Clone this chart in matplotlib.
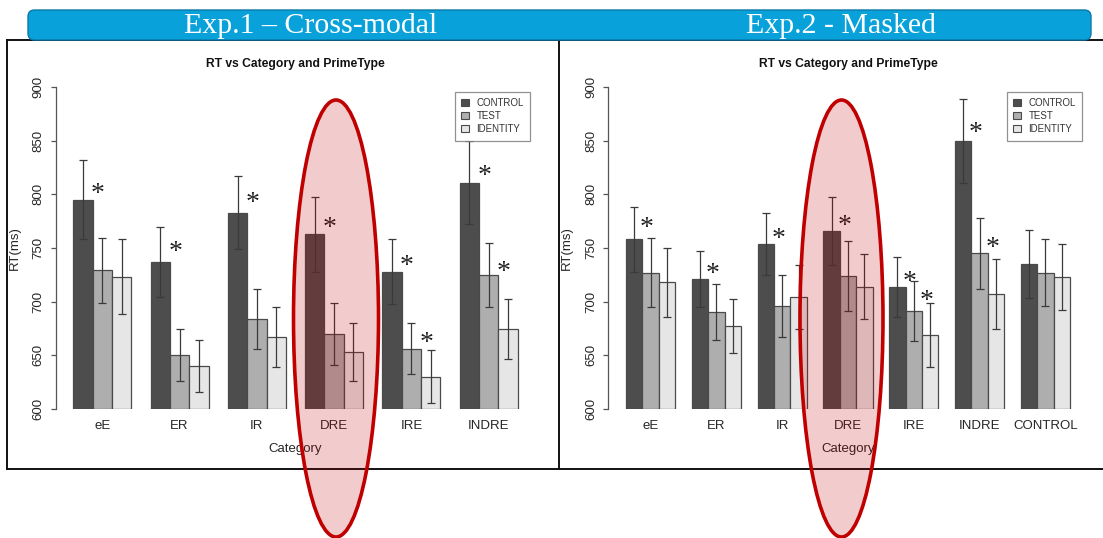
import matplotlib
matplotlib.use('Agg')
import matplotlib.pyplot as plt
from matplotlib.patches import Ellipse, FancyBboxPatch, Patch
from matplotlib.lines import Line2D

plt.rcParams['font.family'] = ['Liberation Sans', 'DejaVu Sans']

# ---------------- data ----------------
prime_types = ['CONTROL', 'TEST', 'IDENTITY']
bar_colors = ['#4D4D4D', '#AEAEAE', '#E6E6E6']

cats1 = ['eE', 'ER', 'IR', 'DRE', 'IRE', 'INDRE']
control1 = [795, 737, 783, 763, 728, 811]
test1 = [729, 650, 684, 670, 656, 725]
identity1 = [723, 640, 667, 653, 630, 674]
err_control1 = [37, 33, 34, 35, 30, 39]
err_test1 = [30, 24, 28, 29, 24, 30]
err_identity1 = [35, 24, 28, 27, 25, 28]
# (category index, gap index: 0 = control|test, 1 = test|identity, height)
stars1 = [(0, 0, 806), (1, 0, 752), (2, 0, 798), (3, 0, 774),
          (4, 0, 739), (4, 1, 667), (5, 0, 823), (5, 1, 733)]

cats2 = ['eE', 'ER', 'IR', 'DRE', 'IRE', 'INDRE', 'CONTROL']
control2 = [758, 721, 754, 766, 714, 850, 735]
test2 = [727, 690, 696, 724, 691, 745, 727]
identity2 = [718, 677, 704, 714, 669, 707, 723]
err_control2 = [30, 26, 29, 32, 28, 39, 32]
err_test2 = [32, 26, 29, 33, 28, 33, 31]
err_identity2 = [32, 25, 30, 30, 30, 33, 31]
stars2 = [(0, 0, 774), (1, 0, 731), (2, 0, 764), (3, 0, 776),
          (4, 0, 724), (4, 1, 706), (5, 0, 863), (5, 1, 756)]

yticks = [600, 650, 700, 750, 800, 850, 900]
banner_titles = ['Exp.1 \u2013 Cross-modal', 'Exp.2 - Masked']
plot_title = 'RT vs Category and PrimeType'
xlabel = 'Category'
ylabel = 'RT(ms)'

# ---------------- layout helpers ----------------
W, H = 1103, 538
def fx(x):
    return x / W
def fy(y):
    return 1 - y / H

fig = plt.figure(figsize=(W / 100, H / 100), dpi=100)
fig.patch.set_facecolor('white')

TXT = '#262626'
STAR_FS = 20

def panel(x_left, x_right, cats, series, errs, stars, leg_x, ylab_x):
    top, bottom = 87.3, 408.7
    ax = fig.add_axes([fx(x_left), fy(bottom), (x_right - x_left) / W, (bottom - top) / H])
    n = len(cats)
    span = 4 * n - 1
    ax.set_xlim(1 - 0.04 * span, 4 * n + 0.04 * span)
    ax.set_ylim(600, 900)
    for j, (vals, ev) in enumerate(zip(series, errs)):
        xs = [4 * g + 1.5 + j for g in range(n)]
        ax.bar(xs, [v - 600 for v in vals], bottom=600, width=1.0,
               color=bar_colors[j], edgecolor='#4a4a4a', linewidth=0.9, zorder=2)
        ax.errorbar(xs, vals, yerr=ev, fmt='none', ecolor='#3a3a3a',
                    elinewidth=0.9, capsize=3.2, capthick=0.9, zorder=3)
    for g, k, yv in stars:
        xs = 4 * g + 1 + (k + 1) + 0.27
        ax.annotate('*', (xs, yv), xytext=(0, -0.47 * STAR_FS), textcoords='offset points',
                    ha='center', va='baseline', fontsize=STAR_FS,
                    family=['Liberation Serif', 'DejaVu Serif'], color='#222222',
                    annotation_clip=False, zorder=4)
    for s in ['top', 'right', 'bottom']:
        ax.spines[s].set_visible(False)
    ax.spines['left'].set_color('#555555')
    ax.spines['left'].set_linewidth(0.9)
    ax.set_yticks(yticks)
    ax.set_yticklabels([str(t) for t in yticks], rotation=90, va='center',
                       fontsize=9.5, color=TXT)
    ax.tick_params(axis='y', length=5 * 0.72, width=0.9, color='#555555', pad=4.5)
    ax.set_xticks([4 * g + 2.5 for g in range(n)])
    ax.set_xticklabels(cats, fontsize=9.5, color=TXT)
    ax.tick_params(axis='x', length=0, pad=8)
    ax.patch.set_alpha(0)
    cx = (x_left + x_right) / 2
    fig.text(fx(cx), fy(64), plot_title, ha='center', va='center',
             fontsize=8.7, fontweight='bold', color='#111111')
    fig.text(fx(cx), fy(449), xlabel, ha='center', va='center', fontsize=9.5, color=TXT)
    fig.text(fx(ylab_x), fy(248), ylabel, ha='center', va='center', rotation=90,
             fontsize=9.5, color=TXT)
    handles = [Patch(facecolor=c, edgecolor='#4a4a4a', linewidth=0.8) for c in bar_colors]
    leg = ax.legend(handles, prime_types, loc='upper left',
                    bbox_to_anchor=(fx(leg_x), fy(91.7)), bbox_transform=fig.transFigure,
                    fontsize=7, frameon=True, fancybox=False, edgecolor='#777777',
                    borderpad=0.65, handlelength=0.75, handleheight=0.75,
                    handletextpad=0.8, labelspacing=0.32, borderaxespad=0)
    leg.get_frame().set_linewidth(0.9)
    for t in leg.get_texts():
        t.set_color('#333333')
    return ax

panel(55.5, 535.5, cats1, [control1, test1, identity1],
      [err_control1, err_test1, err_identity1], stars1, 455, 15)
panel(608.2, 1087.8, cats2, [control2, test2, identity2],
      [err_control2, err_test2, err_identity2], stars2, 1007, 567)

# ---------------- panel frames ----------------
lw_box = 1.4
for xs, ys in [([7, W], [39.5, 39.5]), ([7, W], [469, 469]),
               ([7, 7], [39.5, 469]), ([558.8, 558.8], [39.5, 469])]:
    fig.add_artist(Line2D([fx(v) for v in xs], [fy(v) for v in ys],
                          transform=fig.transFigure, color='#111111', lw=lw_box, zorder=5))

# ---------------- banner ----------------
banner = FancyBboxPatch((fx(28), fy(40)), (1091 - 28) / W, 30 / H,
                        boxstyle='round,pad=0,rounding_size=0.006',
                        mutation_aspect=W / H, transform=fig.transFigure,
                        facecolor='#08A1DA', edgecolor='#0A78A8', linewidth=1.0, zorder=6)
fig.add_artist(banner)
for cx, t in zip([311, 841], banner_titles):
    fig.text(fx(cx), fy(26), t, ha='center', va='center', fontsize=21.5,
             family=['Liberation Serif', 'DejaVu Serif'], color='white', zorder=7)

# ---------------- highlight ellipses ----------------
for cx, w in [(336, 85), (841.5, 83)]:
    fig.add_artist(Ellipse((fx(cx), fy(318.5)), w / W, 437 / H, transform=fig.transFigure,
                           facecolor=(0.75, 0.0, 0.0, 0.2), edgecolor='#C00000',
                           linewidth=2.6, zorder=10))

fig.savefig('out.png', dpi=100, facecolor='white')
